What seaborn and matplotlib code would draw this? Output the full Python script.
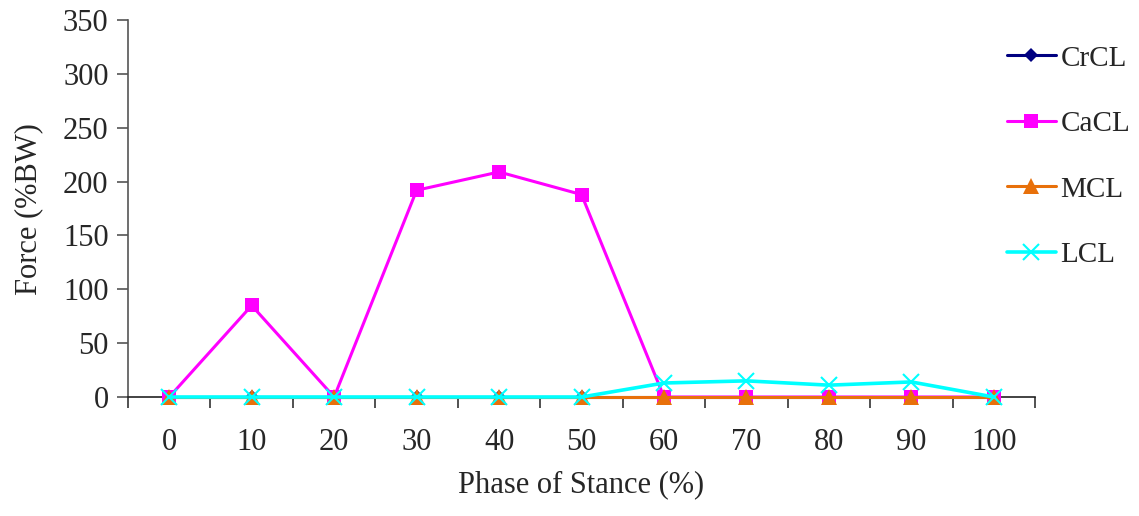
import matplotlib
matplotlib.use("Agg")
import matplotlib.pyplot as plt
import seaborn as sns
import pandas as pd
import numpy as np

phase = [0, 10, 20, 30, 40, 50, 60, 70, 80, 90, 100]
crcl = [0, 0, 0, 0, 0, 0, 0, 0, 0, 0, 0]
cacl = [0, 85, 0, 192, 209, 188, 0, 0, 0, 0, 0]
mcl = [0, 0, 0, 0, 0, 0, 0, 0, 0, 0, 0]
lcl = [0, 0, 0, 0, 0, 0, 13, 15, 11, 14, 0]
series_names = ["CrCL", "CaCL", "MCL", "LCL"]
yticks = [0, 50, 100, 150, 200, 250, 300, 350]

sns.set_theme(style="white")
plt.rcParams['font.family'] = ['Liberation Serif', 'DejaVu Serif']

df = pd.DataFrame({"phase": phase * 4,
                   "force": crcl + cacl + mcl + lcl,
                   "series": sum([[n] * len(phase) for n in series_names], [])})

colors = {"CrCL": "#000080", "CaCL": "#FF00FF", "MCL": "#E8700A", "LCL": "#00FFFF"}
markers = {"CrCL": "D", "CaCL": "s", "MCL": "^", "LCL": "x"}
msizes = {"CrCL": 7, "CaCL": 10, "MCL": 12, "LCL": 11}
lwidths = {"CrCL": 2.2, "CaCL": 2.2, "MCL": 2.2, "LCL": 2.6}

fig = plt.figure(figsize=(11.39, 5.16), dpi=100)
ax = fig.add_axes([0.1124, 0.2306, 0.7963, 0.7304])

for i, name in enumerate(series_names):
    sub = df[df.series == name]
    sns.lineplot(data=sub, x="phase", y="force", ax=ax, color=colors[name],
                 marker=markers[name], markersize=msizes[name], linewidth=lwidths[name],
                 markeredgewidth=1.5 if name == "LCL" else 0,
                 markeredgecolor=colors[name], label=name, clip_on=False, zorder=3 + i)

ax.set_xlim(-5, 105)
ax.set_ylim(0, 350)
ax.set_yticks(yticks)
ax.set_xticks(phase)
ax.set_xticklabels([str(p) for p in phase], fontsize=22)
ax.set_yticklabels([str(v) for v in yticks], fontsize=22)
ax.set_xticks(np.arange(-5, 106, 10), minor=True)
ax.tick_params(axis="x", which="major", length=0, pad=22)
ax.tick_params(axis="x", which="minor", length=8, width=1.2, color="#333333", direction="out", bottom=True)
ax.tick_params(axis="y", which="major", length=8, width=1.2, color="#555555", direction="out", left=True, pad=6)

for s in ["top", "right"]:
    ax.spines[s].set_visible(False)
ax.spines["left"].set_color("#555555")
ax.spines["left"].set_linewidth(1.2)
ax.spines["bottom"].set_color("#222222")
ax.spines["bottom"].set_linewidth(1.2)

ax.set_xlabel("Phase of Stance (%)", fontsize=22, labelpad=10)
ax.set_ylabel("Force (%BW)", fontsize=22, labelpad=14)

leg = ax.legend(loc="upper left", bbox_to_anchor=(0.8735, 0.935), bbox_transform=fig.transFigure,
                frameon=False, fontsize=21, handlelength=1.7, handletextpad=0.15,
                labelspacing=1.34, borderaxespad=0)

fig.savefig("out.png", dpi=100)
